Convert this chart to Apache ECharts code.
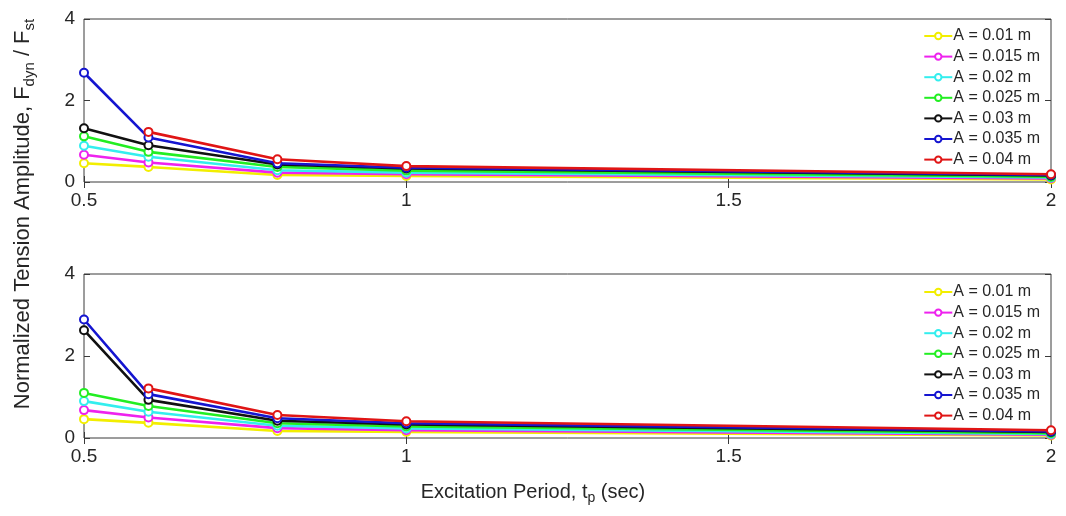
<!DOCTYPE html>
<html>
<head>
<meta charset="utf-8">
<script src="https://cdn.jsdelivr.net/npm/echarts@6/dist/echarts.min.js"></script>
<style>html,body{margin:0;padding:0;background:#fff}#c{width:1066px;height:516px}</style>
</head>
<body>
<div id="c"></div>
<script>
var periods = [0.5, 0.6, 0.8, 1, 2];
var seriesNames = ['A = 0.01 m', 'A = 0.015 m', 'A = 0.02 m', 'A = 0.025 m', 'A = 0.03 m', 'A = 0.035 m', 'A = 0.04 m'];
var seriesColors = ['#f2ee00', '#ee22ee', '#33eeee', '#22ee22', '#111111', '#1515d0', '#e01515'];

// top panel
var top001  = [0.46, 0.37, 0.17, 0.15, 0.06];
var top0015 = [0.67, 0.48, 0.23, 0.19, 0.09];
var top002  = [0.89, 0.62, 0.29, 0.23, 0.11];
var top0025 = [1.12, 0.74, 0.37, 0.28, 0.13];
var top003  = [1.32, 0.90, 0.43, 0.33, 0.16];
var top0035 = [2.68, 1.09, 0.46, 0.35, 0.17];
var top004  = [null, 1.23, 0.56, 0.39, 0.19];

// bottom panel
var bot001  = [0.46, 0.37, 0.17, 0.15, 0.06];
var bot0015 = [0.68, 0.50, 0.24, 0.19, 0.08];
var bot002  = [0.90, 0.64, 0.30, 0.23, 0.10];
var bot0025 = [1.10, 0.78, 0.36, 0.28, 0.12];
var bot003  = [2.63, 0.93, 0.42, 0.33, 0.15];
var bot0035 = [2.89, 1.07, 0.48, 0.36, 0.16];
var bot004  = [null, 1.21, 0.56, 0.41, 0.19];

var xTicks = [0.5, 1, 1.5, 2];
var yTicks = [0, 2, 4];

var topData = [top001, top0015, top002, top0025, top003, top0035, top004];
var botData = [bot001, bot0015, bot002, bot0025, bot003, bot0035, bot004];

var chart = echarts.init(document.getElementById('c'));
var axisColor = '#3a3a3a';
var textColor = '#262626';
var font = 'Liberation Sans, Arial, sans-serif';

function xAx(gi, mirror) {
  return {
    type: 'value', gridIndex: gi, min: xTicks[0], max: xTicks[xTicks.length - 1], interval: 0.5,
    position: mirror ? 'top' : 'bottom',
    axisLine: { show: false },
    axisTick: { show: true, inside: true, length: 6, lineStyle: { color: axisColor } },
    axisLabel: { show: !mirror, color: textColor, fontSize: 19, fontFamily: font, margin: 9,
      formatter: function (v) { return String(v); } },
    splitLine: { show: false }
  };
}
function yAx(gi, mirror) {
  return {
    type: 'value', gridIndex: gi, min: yTicks[0], max: yTicks[yTicks.length - 1], interval: 2,
    position: mirror ? 'right' : 'left',
    axisLine: { show: false },
    axisTick: { show: true, inside: true, length: 6, lineStyle: { color: axisColor } },
    axisLabel: { show: !mirror, color: textColor, fontSize: 19, fontFamily: font, margin: 9 },
    splitLine: { show: false }
  };
}

var series = [];
[topData, botData].forEach(function (set, gi) {
  set.forEach(function (arr, i) {
    series.push({
      name: seriesNames[i], type: 'line', xAxisIndex: gi * 2, yAxisIndex: gi * 2,
      data: periods.map(function (p, k) { return [p, arr[k]]; }),
      symbol: 'emptyCircle', symbolSize: 8, showSymbol: true,
      connectNulls: false,
      lineStyle: { color: seriesColors[i], width: 2.6 },
      itemStyle: { color: seriesColors[i], borderWidth: 2 },
      animation: false, z: 2 + i
    });
  });
});

var legendBase = {
  orient: 'vertical', right: 21, itemWidth: 28, itemHeight: 8, itemGap: 4.6,
  textStyle: { fontSize: 16, color: textColor, fontFamily: font, padding: [0, 0, 0, -4] },
  data: seriesNames, selectedMode: false
};

chart.setOption({
  backgroundColor: '#ffffff',
  animation: false,
  grid: [
    { left: 84, right: 15, top: 19, height: 163, show: true, borderColor: axisColor, borderWidth: 1, backgroundColor: 'transparent' },
    { left: 84, right: 15, top: 274, height: 164, show: true, borderColor: axisColor, borderWidth: 1, backgroundColor: 'transparent' }
  ],
  xAxis: [xAx(0, false), xAx(0, true), xAx(1, false), xAx(1, true)],
  yAxis: [yAx(0, false), yAx(0, true), yAx(1, false), yAx(1, true)],
  legend: [
    Object.assign({}, legendBase, { top: 23 }),
    Object.assign({}, legendBase, { top: 279 })
  ],
  series: series,
  graphic: [
    {
      type: 'text', left: 'center', top: 482,
      style: {
        text: '{a|Excitation Period, t}{s|p}{a| (sec)}',
        rich: {
          a: { fontSize: 20, fontFamily: font, fill: textColor },
          s: { fontSize: 14, fontFamily: font, fill: textColor, padding: [13, 0, 0, 0] }
        }
      }
    },
    {
      type: 'text', x: 23, y: 214, rotation: Math.PI / 2,
      style: {
        text: '{a|Normalized Tension Amplitude, F}{s|dyn}{a| / F}{s|st}',
        align: 'center', verticalAlign: 'middle',
        rich: {
          a: { fontSize: 22, fontFamily: font, fill: textColor },
          s: { fontSize: 15, fontFamily: font, fill: textColor, padding: [14, 0, 0, 0] }
        }
      }
    }
  ]
});
</script>
</body>
</html>
